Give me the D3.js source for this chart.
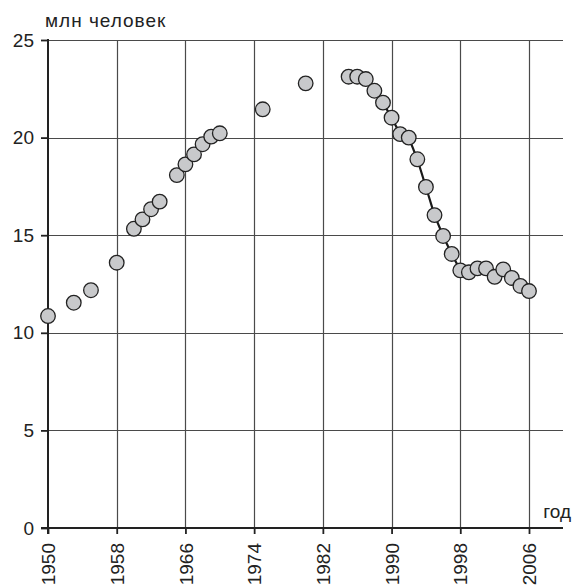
<!DOCTYPE html>
<html>
<head>
<meta charset="utf-8">
<script src="https://cdn.jsdelivr.net/npm/d3@7"></script>
<style>
  body { margin: 0; background: #fff; }
  svg { display: block; font-family: "Liberation Sans", Arial, sans-serif; }
</style>
</head>
<body>
<svg id="chart" width="572" height="587"></svg>
<script>
// population, mln people, by year
var years = [1950, 1953, 1955, 1958, 1960, 1961, 1962, 1963, 1965, 1966, 1967, 1968, 1969, 1970,
             1975, 1980, 1985, 1986, 1987, 1988, 1989, 1990, 1991, 1992, 1993, 1994, 1995,
             1996, 1997, 1998, 1999, 2000, 2001, 2002, 2003, 2004, 2005, 2006];
var values = [10.86, 11.54, 12.18, 13.59, 15.33, 15.81, 16.33, 16.72, 18.08, 18.63, 19.14, 19.66, 20.05, 20.22,
              21.45, 22.78, 23.12, 23.12, 23.0, 22.4, 21.79, 21.02, 20.18, 20.0, 18.89, 17.47, 16.03,
              14.96, 14.04, 13.2, 13.1, 13.3, 13.3, 12.87, 13.25, 12.81, 12.4, 12.14];
var xTicks = [1950, 1958, 1966, 1974, 1982, 1990, 1998, 2006];
var yTicks = [0, 5, 10, 15, 20, 25];
var yTitle = "млн человек";
var xTitle = "год";

// plot box (don't call these top/left: window.top is read-only)
var pLeft = 48, pRight = 563, pTop = 40, pBottom = 528;
var fontSize = 19;

var svg = d3.select("#chart");

var x = d3.scaleLinear().domain([1950, 2006]).range([pLeft, 529]);
var y = d3.scaleLinear().domain([0, 25]).range([pBottom, pTop]);

var data = years.map((d, i) => ({year: d, value: values[i]}));

// grid
svg.append("g")
  .selectAll("line")
  .data(xTicks.slice(1))
  .join("line")
  .attr("x1", d => Math.round(x(d)) + 0.5).attr("x2", d => Math.round(x(d)) + 0.5)
  .attr("y1", pTop).attr("y2", pBottom)
  .attr("stroke", "#4a4a4a").attr("stroke-width", 1.2);

svg.append("g")
  .selectAll("line")
  .data(yTicks.slice(1))
  .join("line")
  .attr("x1", pLeft).attr("x2", pRight)
  .attr("y1", d => Math.round(y(d)) + 0.5).attr("y2", d => Math.round(y(d)) + 0.5)
  .attr("stroke", "#4a4a4a").attr("stroke-width", 1.2);

// axes
var yAxis = svg.append("g")
  .attr("transform", "translate(" + pLeft + ",0)")
  .call(d3.axisLeft(y).tickValues(yTicks).tickSize(7).tickPadding(7));
yAxis.select(".domain").remove();
yAxis.append("line").attr("x1", 0).attr("x2", 0)
  .attr("y1", pTop - 1).attr("y2", pBottom + 6)
  .attr("stroke", "#222").attr("stroke-width", 2);

var xAxis = svg.append("g")
  .attr("transform", "translate(0," + pBottom + ")")
  .call(d3.axisBottom(x).tickValues(xTicks).tickFormat(d3.format("d")).tickSize(6));
xAxis.select(".domain").remove();
xAxis.append("line").attr("x1", pLeft - 7).attr("x2", pRight)
  .attr("y1", 0).attr("y2", 0)
  .attr("stroke", "#222").attr("stroke-width", 2);
xAxis.selectAll(".tick text")
  .attr("transform", "rotate(-90)")
  .attr("text-anchor", "end")
  .attr("x", -15).attr("y", 0).attr("dy", "0.35em");

svg.selectAll(".tick line").attr("stroke", "#222").attr("stroke-width", 1.8);
svg.selectAll(".tick text").attr("fill", "#222").style("font-size", fontSize + "px")
  .style("font-family", "\"Liberation Sans\", Arial, sans-serif");

// titles
svg.append("text").attr("x", 45).attr("y", 27).text(yTitle)
  .attr("fill", "#222").style("font-size", fontSize + "px")
  .style("letter-spacing", "1px");
svg.append("text").attr("x", 571).attr("y", 518).attr("text-anchor", "end").text(xTitle)
  .attr("fill", "#222").style("font-size", fontSize + "px");

// connecting line for runs of consecutive years
var runs = [];
data.forEach(function(d, i) {
  if (i > 0 && d.year - data[i - 1].year == 1) runs[runs.length - 1].push(d);
  else runs.push([d]);
});
var line = d3.line().x(d => x(d.year)).y(d => y(d.value));
svg.append("g")
  .selectAll("path")
  .data(runs.filter(r => r.length > 1))
  .join("path")
  .attr("d", line)
  .attr("fill", "none").attr("stroke", "#1a1a1a").attr("stroke-width", 2.2);

// points
svg.append("g")
  .selectAll("circle")
  .data(data)
  .join("circle")
  .attr("cx", d => x(d.year))
  .attr("cy", d => y(d.value))
  .attr("r", 7.3)
  .attr("fill", "#c8c9cb")
  .attr("stroke", "#222").attr("stroke-width", 1.3);
</script>
</body>
</html>
